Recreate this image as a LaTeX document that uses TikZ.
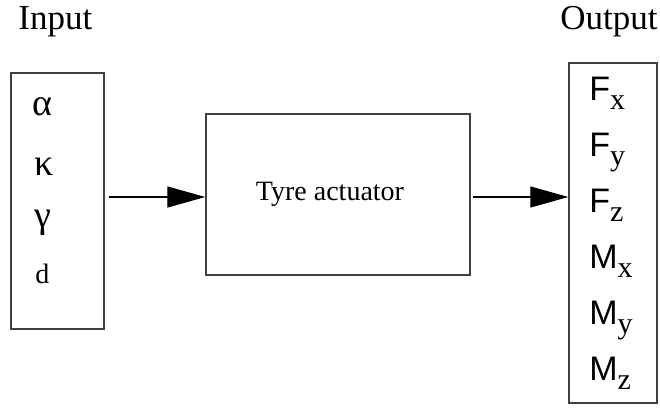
\documentclass[tikz,border=0pt]{standalone}
\usepackage{fontspec}
\setmainfont{Liberation Serif}
\setsansfont{Liberation Sans}
\usetikzlibrary{arrows.meta,positioning}
% force/moment name with a lowered axis index
\newcommand{\comp}[2]{{\sffamily #1}\raisebox{-4.5pt}{\fontsize{15}{16}\selectfont #2}}

\begin{document}
\begin{tikzpicture}[
	x=0.5pt, y=-0.5pt,
	box/.style = {draw=black!75, line width=0.7pt, inner sep=0pt},
	head/.style = {font=\fontsize{17.5}{20}\selectfont, anchor=base west, inner sep=0pt},
	insym/.style = {font=\fontsize{19}{21}\selectfont, anchor=base west, inner sep=0pt},
	outsym/.style = {font=\fontsize{17}{19}\selectfont, anchor=base west, inner sep=0pt},
	flow/.style = {-{Triangle[length=19pt,width=10.5pt]}, line width=0.6pt},
	]
	\useasboundingbox (0,0) rectangle (660,408);
	% boxes
	\node[box, minimum width=46.5pt, minimum height=128pt] (in) at (57.5,201) {};
	\node[box, minimum width=132pt, minimum height=80.5pt, font=\fontsize{14}{16}\selectfont] (act) at (338,194.5) {Tyre actuator\hspace*{8pt}};
	\node[box, minimum width=44pt, minimum height=170pt] (out) at (613,233) {};
	% titles
	\node[head] (intitle) at (18,29) {Input};
	\node[head] (outtitle) at (560,29) {Output};
	% inputs
	\node[insym] (alpha) at (32,115) {α};
	\node[insym] (kappa) at (34,175) {κ};
	\node[insym] (gamma) at (34,227) {γ};
	\node[insym, font=\fontsize{14}{16}\selectfont] (dist) at (35,283) {d};
	% outputs
	\foreach \q/\c [count=\i from 0] in {F/x,F/y,F/z,M/x,M/y,M/z}
		\node[outsym] (out\q\c) at (589,100+56*\i) {\comp{\q}{\c}};
	% arrows
	\coordinate (lvl) at (0,197);
	\draw[flow] ([xshift=2pt]in.east |- lvl) -- (act.west |- lvl);
	\draw[flow] ([xshift=1pt]act.east |- lvl) -- (out.west |- lvl);
\end{tikzpicture}
\end{document}
